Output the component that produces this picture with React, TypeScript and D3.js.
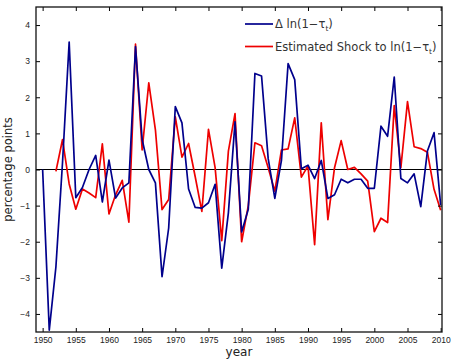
import React, { useEffect, useRef } from 'react';
import * as d3 from 'd3';

const years = d3.range(1950, 2011);

// Δ ln(1-τ), 1950-2010
const deltaTax = [
  0, -4.45, -2.7, 0.2, 3.53, -0.78, -0.5, 0.0, 0.39, -0.9,
  0.26, -0.79, -0.51, -0.37, 3.4, 0.83, 0.0, -0.37, -2.97, -1.62,
  1.74, 1.29, -0.54, -1.05, -1.07, -0.92, -0.41, -2.73, -1.2, 1.32,
  -1.73, -1.1, 2.66, 2.59, 0.3, -0.8, 0.25, 2.93, 2.49, 0.02,
  0.12, -0.25, 0.25, -0.8, -0.7, -0.27, -0.37, -0.27, -0.27, -0.52,
  -0.52, 1.2, 0.92, 2.56, -0.25, -0.37, -0.12, -1.03, 0.51, 1.02,
  -0.99,
];

// estimated shock, 1952-2010
const shockYears = d3.range(1952, 2011);
const shock = [
  -0.05, 0.83, -0.4, -1.1, -0.54, -0.65, -0.78, 0.71,
  -1.23, -0.7, -0.3, -1.46, 3.47, 0.54, 2.4, 1.1, -1.11, -0.83,
  1.46, 0.34, 0.72, -0.2, -1.16, 1.11, 0.05, -1.97, 0.51, 1.55,
  -2.0, -1.0, 0.74, 0.66, 0.05, -0.6, 0.54, 0.57, 1.43, -0.21,
  0.1, -2.08, 1.29, -1.39, 0.05, 0.8, 0.0, 0.06, -0.12, -0.32,
  -1.72, -1.35, -1.47, 1.77, 0.05, 1.88, 0.63, 0.58, 0.48, -0.55,
  -1.13,
];

const xTicks = d3.range(1950, 2011, 5);
const yTicks = d3.range(-4, 5, 1);

const width = 451;
const height = 359;

const App: React.FC = () => {
  const svgRef = useRef<SVGSVGElement>(null);

  useEffect(() => {
    if (!svgRef.current) return;
    const svg = d3.select(svgRef.current);
    svg.selectAll('*').remove();

    const margin = { top: 7, right: 9, bottom: 27, left: 36 };
    const innerWidth = width - margin.left - margin.right;
    const innerHeight = height - margin.top - margin.bottom;

    const g = svg.append('g')
      .attr('transform', `translate(${margin.left},${margin.top})`);

    const x = d3.scaleLinear().domain([1949, 2010.2]).range([0, innerWidth]);
    const y = d3.scaleLinear().domain([-4.5, 4.5]).range([innerHeight, 0]);

    const font = "'Liberation Sans', Arial, sans-serif";
    const wideFont = "'DejaVu Sans', Verdana, sans-serif";

    // zero line
    g.append('line')
      .attr('x1', 0).attr('x2', innerWidth)
      .attr('y1', y(0)).attr('y2', y(0))
      .attr('stroke', '#000').attr('stroke-width', 1);

    const line = d3.line<[number, number]>()
      .x(d => x(d[0]))
      .y(d => y(d[1]));

    g.append('path')
      .datum(shockYears.map((yr, i) => [yr, shock[i]] as [number, number]))
      .attr('d', line)
      .attr('fill', 'none')
      .attr('stroke', '#ee0000')
      .attr('stroke-width', 1.7)
      .attr('stroke-linejoin', 'round');

    g.append('path')
      .datum(years.map((yr, i) => [yr, deltaTax[i]] as [number, number]))
      .attr('d', line)
      .attr('fill', 'none')
      .attr('stroke', '#00008c')
      .attr('stroke-width', 1.7)
      .attr('stroke-linejoin', 'round');

    // axes, ticks pointing inward
    const xAxis = g.append('g')
      .attr('transform', `translate(0,${innerHeight})`)
      .call(d3.axisBottom(x).tickValues(xTicks).tickSizeInner(-4).tickSizeOuter(0).tickPadding(5).tickFormat(d3.format('d')));
    xAxis.selectAll('text').style('font-family', font).style('font-size', '8.5px').style('fill', '#222');

    g.append('g')
      .call(d3.axisTop(x).tickValues(xTicks).tickSizeInner(-4).tickSizeOuter(0).tickFormat(() => ''));

    const yAxis = g.append('g')
      .call(d3.axisLeft(y).tickValues(yTicks).tickSizeInner(-4).tickSizeOuter(0).tickPadding(6)
        .tickFormat(d => d3.format('d')(d as number).replace('-', '\u2212')));
    yAxis.selectAll('text').style('font-family', font).style('font-size', '8.5px').style('fill', '#222');

    g.append('g')
      .attr('transform', `translate(${innerWidth},0)`)
      .call(d3.axisRight(y).tickValues(yTicks).tickSizeInner(-4).tickSizeOuter(0).tickFormat(() => ''));

    g.selectAll('.domain').remove();
    g.append('rect')
      .attr('width', innerWidth).attr('height', innerHeight)
      .attr('fill', 'none').attr('stroke', '#111').attr('stroke-width', 1.3);

    // axis labels
    g.append('text')
      .attr('x', innerWidth / 2)
      .attr('y', innerHeight + 24)
      .attr('text-anchor', 'middle')
      .style('font-family', wideFont)
      .style('font-size', '12px')
      .style('fill', '#222')
      .text('year');

    g.append('text')
      .attr('transform', `translate(-24,${innerHeight / 2}) rotate(-90)`)
      .attr('text-anchor', 'middle')
      .style('font-family', wideFont)
      .style('font-size', '11.5px')
      .style('fill', '#222')
      .text('percentage points');

    // legend
    const legend = svg.append('g').attr('transform', 'translate(245,24)');
    const items = [
      { color: '#00008c', main: '\u0394 ln(1\u2212\u03c4', sub: 't', end: ')' },
      { color: '#ee0000', main: 'Estimated Shock to ln(1\u2212\u03c4', sub: 't', end: ')' },
    ];
    items.forEach((it, i) => {
      const row = legend.append('g').attr('transform', `translate(0,${i * 22.5})`);
      row.append('line')
        .attr('x1', 0).attr('x2', 28)
        .attr('stroke', it.color).attr('stroke-width', 1.7);
      const t = row.append('text')
        .attr('x', 30).attr('y', 4)
        .style('font-family', wideFont)
        .style('font-size', '11.5px')
        .style('fill', '#333');
      t.append('tspan').text(it.main);
      t.append('tspan').attr('dy', 3).style('font-size', '7.5px').text(it.sub);
      t.append('tspan').attr('dy', -3).text(it.end);
    });
  }, []);

  return (
    <svg
      ref={svgRef}
      width={width}
      height={height}
      style={{ position: 'absolute', left: 0, top: 0, background: '#fff' }}
    />
  );
};

export default App;
